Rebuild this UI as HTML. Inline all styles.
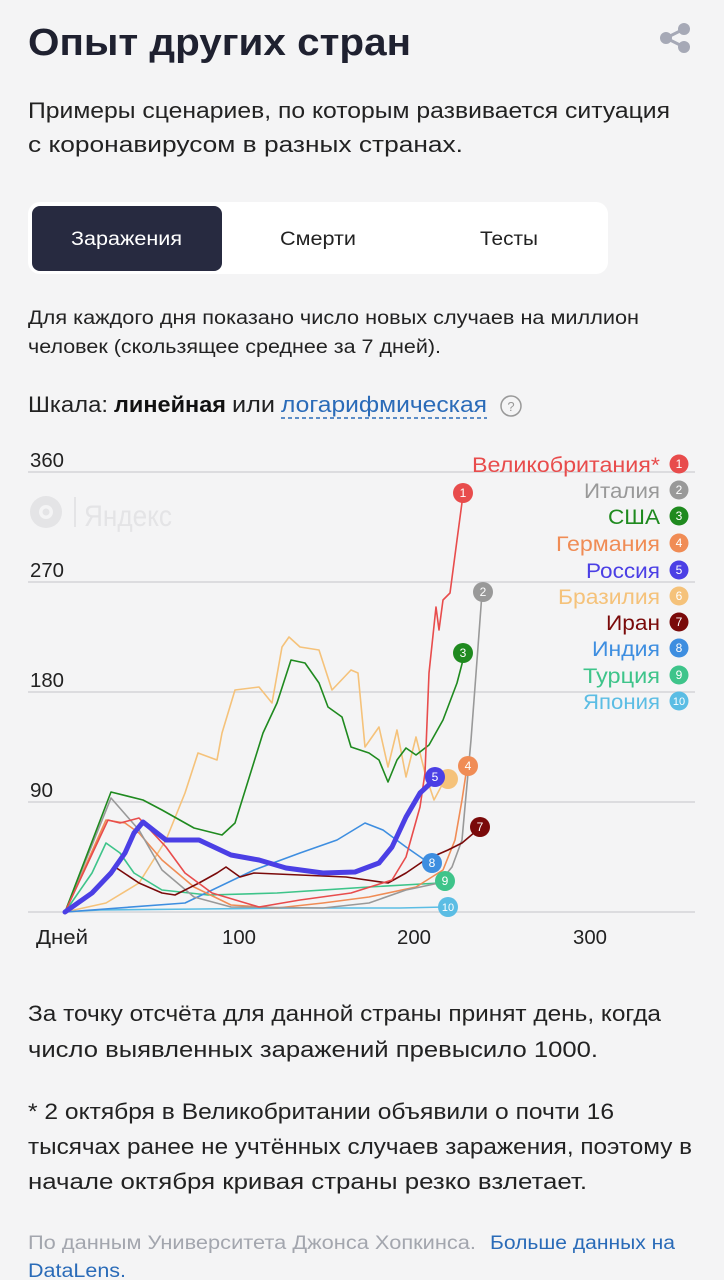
<!DOCTYPE html>
<html><head><meta charset="utf-8"><style>
html,body{margin:0;padding:0;background:#f4f4f5;}
svg{display:block;font-family:"Liberation Sans","DejaVu Sans",sans-serif;}
</style></head><body>
<svg width="724" height="1280" viewBox="0 0 724 1280" xmlns="http://www.w3.org/2000/svg">
<rect width="724" height="1280" fill="#f4f4f5"/>
<text x="28" y="55" font-size="38" font-weight="bold" fill="#1f2130" textLength="383" lengthAdjust="spacingAndGlyphs">Опыт других стран</text>
<g fill="#a6a9b6"><circle cx="684" cy="29" r="6"/><circle cx="666" cy="38" r="6"/><circle cx="684" cy="47" r="6"/></g>
<path d="M684 29 L666 38 L684 47" stroke="#a6a9b6" stroke-width="3" fill="none"/>
<g font-size="22" fill="#222">
<text x="28" y="118" textLength="642" lengthAdjust="spacingAndGlyphs">Примеры сценариев, по которым развивается ситуация</text>
<text x="28" y="152" textLength="435" lengthAdjust="spacingAndGlyphs">с коронавирусом в разных странах.</text>
</g>
<rect x="28" y="202" width="580" height="72" rx="12" fill="#fff"/>
<rect x="32" y="206" width="190" height="65" rx="8" fill="#272a40"/>
<g font-size="19">
<text x="71" y="245" fill="#fff" textLength="111" lengthAdjust="spacingAndGlyphs">Заражения</text>
<text x="280" y="245" fill="#222" textLength="76" lengthAdjust="spacingAndGlyphs">Смерти</text>
<text x="480" y="245" fill="#222" textLength="58" lengthAdjust="spacingAndGlyphs">Тесты</text>
</g>
<g font-size="19" fill="#222">
<text x="28" y="324" textLength="611" lengthAdjust="spacingAndGlyphs">Для каждого дня показано число новых случаев на миллион</text>
<text x="28" y="353" textLength="413" lengthAdjust="spacingAndGlyphs">человек (скользящее среднее за 7 дней).</text>
</g>
<g font-size="22">
<text x="28" y="412" fill="#222" textLength="80" lengthAdjust="spacingAndGlyphs">Шкала:</text>
<text x="114" y="412" fill="#111" font-weight="bold" textLength="112" lengthAdjust="spacingAndGlyphs">линейная</text>
<text x="232" y="412" fill="#222" textLength="43" lengthAdjust="spacingAndGlyphs">или</text>
<text x="281" y="412" fill="#2a6bb8" textLength="206" lengthAdjust="spacingAndGlyphs">логарифмическая</text>
</g>
<line x1="281" y1="418" x2="487" y2="418" stroke="#2a6bb8" stroke-width="1.5" stroke-dasharray="4 3"/>
<circle cx="511" cy="406" r="10" fill="none" stroke="#999" stroke-width="1.5"/>
<text x="511" y="411" font-size="13" fill="#999" text-anchor="middle">?</text>

<g stroke="#d4d4d8" stroke-width="1.5">
<line x1="28" y1="472" x2="695" y2="472"/><line x1="28" y1="582" x2="695" y2="582"/>
<line x1="28" y1="692" x2="695" y2="692"/><line x1="28" y1="802" x2="695" y2="802"/>
<line x1="28" y1="912" x2="695" y2="912"/>
</g>
<g font-size="20" fill="#222">
<text x="30" y="467" textLength="34" lengthAdjust="spacingAndGlyphs">360</text>
<text x="30" y="577" textLength="34" lengthAdjust="spacingAndGlyphs">270</text>
<text x="30" y="687" textLength="34" lengthAdjust="spacingAndGlyphs">180</text>
<text x="30" y="797" textLength="23" lengthAdjust="spacingAndGlyphs">90</text>
<text x="36" y="944" textLength="52" lengthAdjust="spacingAndGlyphs">Дней</text>
<text x="222" y="944" textLength="34" lengthAdjust="spacingAndGlyphs">100</text>
<text x="397" y="944" textLength="34" lengthAdjust="spacingAndGlyphs">200</text>
<text x="573" y="944" textLength="34" lengthAdjust="spacingAndGlyphs">300</text>
</g>
<circle cx="46" cy="512" r="16" fill="#e4e4e6"/><circle cx="46" cy="512" r="7" fill="#f4f4f5"/><circle cx="46" cy="512" r="3.5" fill="#e4e4e6"/>
<line x1="75" y1="497" x2="75" y2="527" stroke="#e4e4e6" stroke-width="2"/>
<text x="84" y="526" font-size="30" fill="#e4e4e6" textLength="88" lengthAdjust="spacingAndGlyphs">Яндекс</text>

<g fill="none" stroke-width="1.6" stroke-linejoin="round">
<polyline stroke="#5bbde4" points="63,912 100,910 200,909 300,908 400,908 445,907"/>
<polyline stroke="#f5c27a" points="65,912 106,903 139,883 166,840 185,793 198,753 217,760 222,733 235,690 259,687 272,703 282,647 289,637 300,647 319,650 332,690 351,670 358,673 365,747 379,727 388,767 397,730 406,777 416,737 425,773 434,800 443,783"/>
<polyline stroke="#3ec48a" points="65,912 92,873 106,843 120,853 134,873 162,890 208,895 277,893 369,887 439,883"/>
<polyline stroke="#3e8ee0" points="65,912 185,903 254,870 300,853 337,840 365,823 383,830 406,847 429,863"/>
<polyline stroke="#f08c55" points="65,912 106,820 125,823 139,833 162,860 194,887 231,905 277,908 323,903 369,897 416,887 443,870 455,840 462,800 467,767"/>
<polyline stroke="#999" points="65,912 111,798 139,830 162,870 194,897 231,907 323,908 369,903 406,890 439,883 452,867 462,840 471,740 478,647 482,593"/>
<polyline stroke="#7a0a0a" points="65,912 88,897 115,867 139,883 162,893 175,895 199,883 217,873 226,867 240,877 254,873 300,875 346,877 388,883 406,873 425,860 448,850 462,843 475,832"/>
<polyline stroke="#1f8a1f" points="65,912 111,792 143,800 162,810 194,828 222,835 235,823 263,733 277,703 291,660 305,663 319,683 328,707 342,717 351,747 369,753 379,760 388,782 397,760 406,748 416,755 429,745 443,720 457,683 463,660"/>
<polyline stroke="#e84c4c" points="65,912 108,820 120,823 139,818 166,847 185,873 212,893 259,907 300,900 351,893 392,880 406,857 420,807 425,773 429,673 436,607 439,630 443,600 450,593 457,540 463,495"/>
<polyline stroke="#4b3fe5" stroke-width="5" stroke-linecap="round" points="65,912 92,893 111,873 125,853 134,833 143,822 157,833 166,840 199,840 231,855 259,860 286,868 323,873 355,872 379,863 392,847 406,817 420,793 434,780"/>
</g>
<g font-size="12" fill="#fff" text-anchor="middle">
<circle cx="463" cy="493" r="10" fill="#e84c4c"/><text x="463" y="497">1</text>
<circle cx="483" cy="592" r="10" fill="#999"/><text x="483" y="596">2</text>
<circle cx="463" cy="653" r="10" fill="#1f8a1f"/><text x="463" y="657">3</text>
<circle cx="448" cy="779" r="10" fill="#f5c27a"/>
<circle cx="468" cy="766" r="10" fill="#f08c55"/><text x="468" y="770">4</text>
<circle cx="435" cy="777" r="10" fill="#4b3fe5"/><text x="435" y="781">5</text>
<circle cx="480" cy="827" r="10" fill="#7a0a0a"/><text x="480" y="831">7</text>
<circle cx="432" cy="863" r="10" fill="#3e8ee0"/><text x="432" y="867">8</text>
<circle cx="445" cy="881" r="10" fill="#3ec48a"/><text x="445" y="885">9</text>
<circle cx="448" cy="907" r="10" fill="#5bbde4"/><text x="448" y="911" font-size="11">10</text>
</g>
<g font-size="21">
<text x="472" y="472" fill="#e84c4c" textLength="188" lengthAdjust="spacingAndGlyphs">Великобритания*</text>
<text x="584" y="498" fill="#999" textLength="76" lengthAdjust="spacingAndGlyphs">Италия</text>
<text x="608" y="524" fill="#1f8a1f" textLength="52" lengthAdjust="spacingAndGlyphs">США</text>
<text x="556" y="551" fill="#f08c55" textLength="104" lengthAdjust="spacingAndGlyphs">Германия</text>
<text x="586" y="578" fill="#4b3fe5" textLength="74" lengthAdjust="spacingAndGlyphs">Россия</text>
<text x="558" y="604" fill="#f5c27a" textLength="102" lengthAdjust="spacingAndGlyphs">Бразилия</text>
<text x="606" y="630" fill="#7a0a0a" textLength="54" lengthAdjust="spacingAndGlyphs">Иран</text>
<text x="592" y="656" fill="#3e8ee0" textLength="68" lengthAdjust="spacingAndGlyphs">Индия</text>
<text x="583" y="683" fill="#3ec48a" textLength="77" lengthAdjust="spacingAndGlyphs">Турция</text>
<text x="583" y="709" fill="#5bbde4" textLength="77" lengthAdjust="spacingAndGlyphs">Япония</text>
</g>
<g font-size="12" fill="#fff" text-anchor="middle">
<circle cx="679" cy="464" r="9.5" fill="#e84c4c"/><text x="679" y="468">1</text>
<circle cx="679" cy="490" r="9.5" fill="#999"/><text x="679" y="494">2</text>
<circle cx="679" cy="516" r="9.5" fill="#1f8a1f"/><text x="679" y="520">3</text>
<circle cx="679" cy="543" r="9.5" fill="#f08c55"/><text x="679" y="547">4</text>
<circle cx="679" cy="570" r="9.5" fill="#4b3fe5"/><text x="679" y="574">5</text>
<circle cx="679" cy="596" r="9.5" fill="#f5c27a"/><text x="679" y="600">6</text>
<circle cx="679" cy="622" r="9.5" fill="#7a0a0a"/><text x="679" y="626">7</text>
<circle cx="679" cy="648" r="9.5" fill="#3e8ee0"/><text x="679" y="652">8</text>
<circle cx="679" cy="675" r="9.5" fill="#3ec48a"/><text x="679" y="679">9</text>
<circle cx="679" cy="701" r="9.5" fill="#5bbde4"/><text x="679" y="705" font-size="11">10</text>
</g>
<g font-size="22" fill="#222">
<text x="28" y="1021" textLength="633" lengthAdjust="spacingAndGlyphs">За точку отсчёта для данной страны принят день, когда</text>
<text x="28" y="1057" textLength="570" lengthAdjust="spacingAndGlyphs">число выявленных заражений превысило 1000.</text>
<text x="28" y="1119" textLength="586" lengthAdjust="spacingAndGlyphs">* 2 октября в Великобритании объявили о почти 16</text>
<text x="28" y="1154" textLength="664" lengthAdjust="spacingAndGlyphs">тысячах ранее не учтённых случаев заражения, поэтому в</text>
<text x="28" y="1189" textLength="559" lengthAdjust="spacingAndGlyphs">начале октября кривая страны резко взлетает.</text>
</g>
<g font-size="19">
<text x="28" y="1249" fill="#a3a6ae" textLength="448" lengthAdjust="spacingAndGlyphs">По данным Университета Джонса Хопкинса.</text>
<text x="490" y="1249" fill="#2a6bb8" textLength="185" lengthAdjust="spacingAndGlyphs">Больше данных на</text>
<text x="28" y="1277" fill="#2a6bb8" textLength="98" lengthAdjust="spacingAndGlyphs">DataLens.</text>
</g>
</svg>
</body></html>
